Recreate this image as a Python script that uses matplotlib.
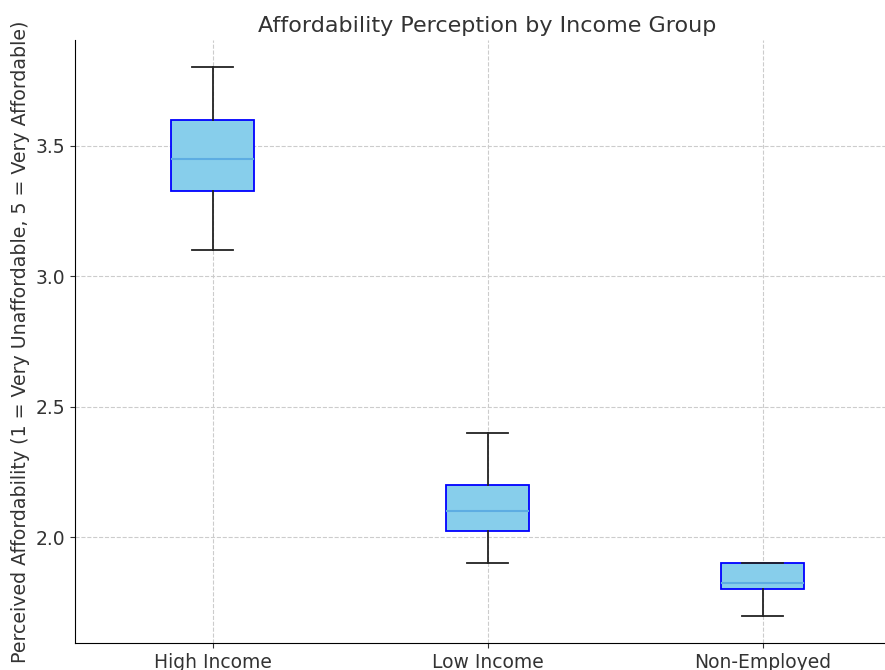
import matplotlib
matplotlib.use("Agg")
import matplotlib.pyplot as plt

# Box statistics
groups = ["High Income", "Low Income", "Non-Employed"]
whislo = [3.10, 1.90, 1.70]
q1 = [3.325, 2.025, 1.80]
med = [3.45, 2.10, 1.825]
q3 = [3.60, 2.20, 1.90]
whishi = [3.80, 2.40, 1.90]

stats = []
for i, g in enumerate(groups):
    stats.append({"label": g, "whislo": whislo[i], "q1": q1[i], "med": med[i],
                  "q3": q3[i], "whishi": whishi[i], "fliers": []})

fig = plt.figure(figsize=(8.85, 6.7), dpi=100)
ax = fig.add_axes([75 / 885, 27 / 670, 825 / 885, 603 / 670])

ax.bxp(stats, patch_artist=True, showfliers=False, widths=0.3,
       boxprops=dict(facecolor="#87CEEB", edgecolor="blue", linewidth=1.3),
       medianprops=dict(color="#5DADE2", linewidth=1.5),
       whiskerprops=dict(color="#222222", linewidth=1.3),
       capprops=dict(color="#222222", linewidth=1.3))

ax.set_xlim(0.5, 3.5)
ax.set_ylim(1.595, 3.905)
ax.set_yticks([2.0, 2.5, 3.0, 3.5])
ax.grid(True, linestyle="--", color="#cccccc", linewidth=0.8)
ax.set_axisbelow(True)
ax.spines["top"].set_visible(False)
ax.spines["right"].set_visible(False)
ax.tick_params(labelsize=13.5, labelcolor="#333333", color="#333333")

ax.set_title("Affordability Perception by Income Group", fontsize=16, color="#333333")
ax.set_ylabel("Perceived Affordability (1 = Very Unaffordable, 5 = Very Affordable)",
              fontsize=13.7, color="#333333", labelpad=4)

fig.savefig("out.png", dpi=100)
